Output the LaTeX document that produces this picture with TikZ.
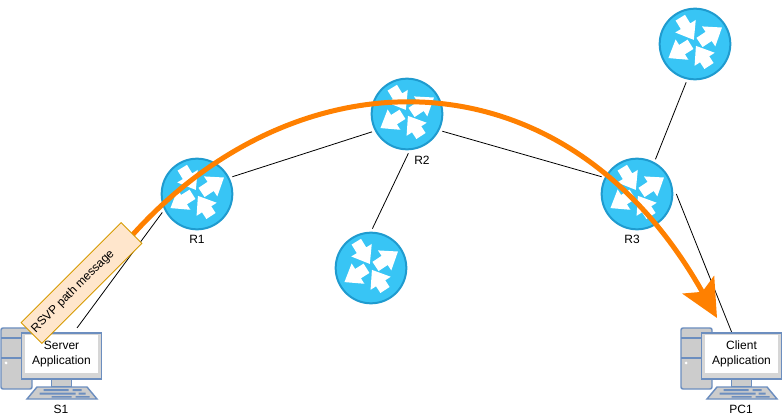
\documentclass[tikz,border=0pt]{standalone}
\usepackage{fontspec}
\setmainfont{Liberation Sans}
\usetikzlibrary{arrows.meta}

\definecolor{routerfill}{HTML}{38C5F5}
\definecolor{routerline}{HTML}{1F9BCF}
\definecolor{pcline}{HTML}{6C8EBF}
\definecolor{pcgrey}{HTML}{CCCCCC}
\definecolor{msgline}{HTML}{FF8000}
\definecolor{tagfill}{HTML}{FFE6CC}
\definecolor{tagline}{HTML}{D79B00}

\tikzset{
  link/.style={draw=black,line width=0.6pt},
  lbl/.style={font=\fontsize{9}{11.2}\selectfont,align=center,inner sep=0pt},
  router/.style={shape=circle,draw=routerline,fill=routerfill,line width=1.5pt,
    minimum size=53pt,inner sep=0pt,outer sep=3pt},
  routerarrows/.pic={
    \foreach \tx/\ty/\ang/\len in {-14.7/-26.3/-58.6/26,4.5/-1.5/33.7/27,-4.5/0.3/212/26,14/22/123/24}
      \fill[white,shift={(\tx,\ty)},rotate=\ang]
        (0,-5.5) -- (\len-16,-5.5) -- (\len-16,-12) -- (\len,0) -- (\len-16,12) -- (\len-16,5.5) -- (0,5.5) -- cycle;
  },
  monitor/.style={lbl,fill=white,minimum width=55pt,minimum height=28.5pt},
  computer/.pic={
    \draw[pcline,fill=pcgrey,line width=1.1pt,rounded corners=1.5pt] (-60.5,-28) rectangle (-29.5,33);
    \draw[pcline,line width=1.1pt] (-60.5,-18) -- (-29.5,-18) (-60.5,2) -- (-29.5,2);
    \fill[white] (-55.5,7) circle (1.5);
    \draw[pcline,fill=pcgrey,line width=1.1pt] (-10,23) rectangle (10,31);
    \draw[pcline,fill=pcgrey,line width=1.1pt] (-24.5,31) -- (25.5,31) -- (35.5,43) -- (-34.5,43) -- cycle;
    \fill[pcline] (-18,33) rectangle (7,35) (11,33) rectangle (20,35)
      (-22,36.5) rectangle (14,38.5) (17,36.5) rectangle (24,38.5)
      (-10,40) rectangle (10,41.5) (14,40) rectangle (28,41.5);
    \draw[pcline,fill=pcgrey!80!white,line width=1.1pt] (-40,-23) rectangle (40,23);
  },
}

\begin{document}
\begin{tikzpicture}[x=0.75pt,y=-0.75pt]
\useasboundingbox (0,0) rectangle (782,420);

\coordinate (s1end) at (77,328);
\coordinate (pc1end) at (732,333);
\coordinate (msgstart) at (122,247);
\coordinate (msgend) at (717,318);
\coordinate (msgctrla) at (285,53);
\coordinate (msgctrlb) at (560,39);

\node[router] (r1) at (197,194) {};
\node[router] (r2) at (407,114) {};
\node[router] (r3) at (637,194) {};
\node[router] (r4) at (371,268) {};
\node[router] (r5) at (695,44) {};
\foreach \rt in {r1,r2,r3,r4,r5}
  \pic at (\rt) {routerarrows};

\node[lbl] (r1lbl) at (197,239) {R1};
\node[lbl] (r2lbl) at (422,160) {R2};
\node[lbl] (r3lbl) at (632,239) {R3};
\node[lbl] (s1lbl) at (61,409) {S1};
\node[lbl] (pc1lbl) at (741,409) {PC1};

\path [link] (r1.26) edge (r2.207);
\path [link] (r2.-26) edge (r3.154);
\path [link] (r2.-88) edge (r4.88);
\path [link] (r3.62) edge (r5.257);
\path [link] (r1.208) edge (s1end);
\path [link] (r3.0) edge (pc1end);

\pic at (61.5,356) {computer};
\pic at (741.5,356) {computer};
\node[monitor] (s1) at (61.5,354) {Server\\Application};
\node[monitor] (pc1) at (741.5,354) {Client\\Application};

\draw[msgline,line width=3.75pt,-{Stealth[length=28.5pt,width=27pt,inset=6pt]}]
  (msgstart) .. controls (msgctrla) and (msgctrlb) .. (msgend);

\node[lbl,fill=tagfill,draw=tagline,line width=0.6pt,rotate=45,minimum width=106pt,minimum height=22pt] (tag) at (81.5,283) {RSVP path message\hspace*{18pt}};
\end{tikzpicture}
\end{document}
